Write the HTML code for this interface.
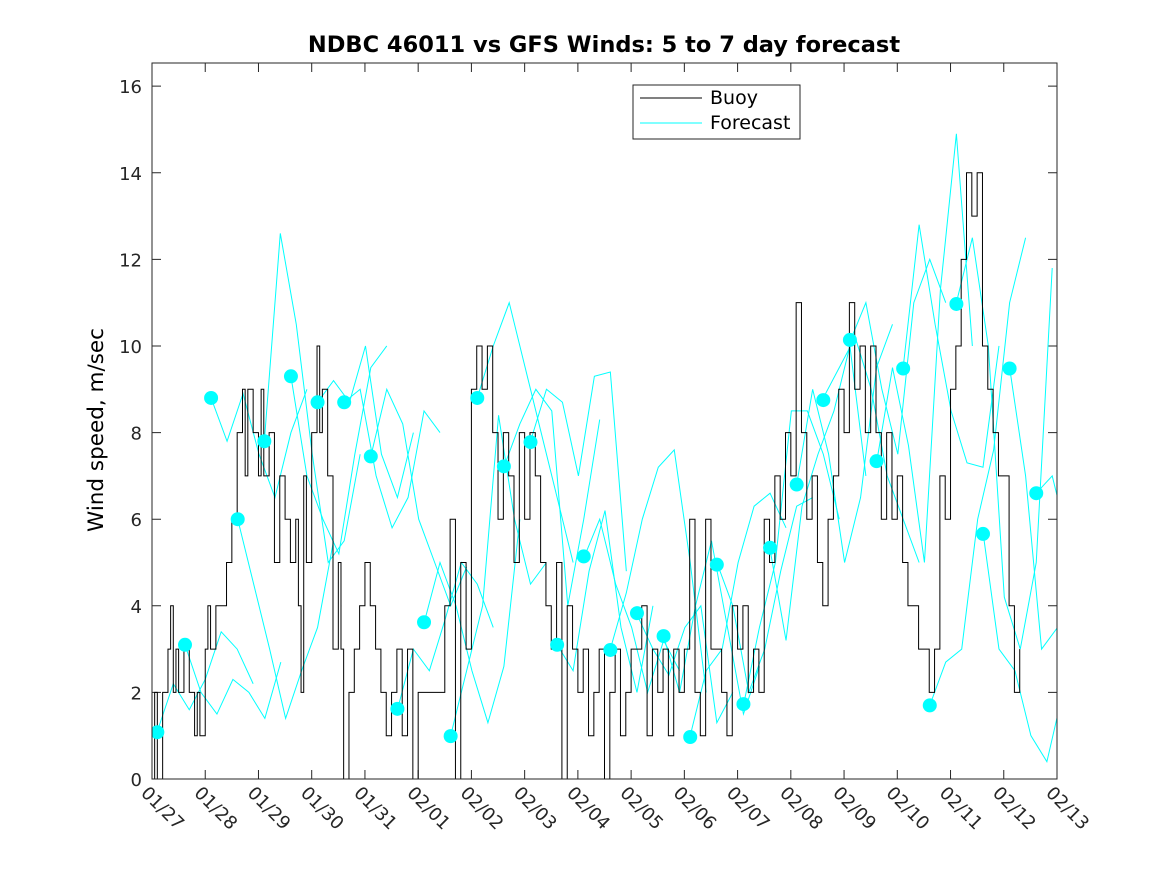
<!DOCTYPE html>
<html><head><meta charset="utf-8"><style>
body{margin:0;background:#fff;}
svg{display:block;font-family:"DejaVu Sans","Liberation Sans",sans-serif;}
</style></head><body>
<svg id="chart" width="1167" height="875" viewBox="0 0 1167 875">
<defs><clipPath id="pc"><rect x="152" y="63" width="905" height="716"/></clipPath></defs>
<rect width="1167" height="875" fill="#fff"/>
<text x="604" y="52" text-anchor="middle" font-size="22.5" font-weight="bold">NDBC 46011 vs GFS Winds: 5 to 7 day forecast</text>
<text transform="translate(103,430) rotate(-90)" text-anchor="middle" font-size="21.5">Wind speed, m/sec</text>
<g id="axes"></g>
<g id="series" clip-path="url(#pc)"></g>
<rect x="152" y="63" width="905" height="716" fill="none" stroke="#262626" stroke-width="1"/>
<g>
<rect x="633" y="85" width="167" height="54" fill="#fff" stroke="#262626"/>
<line x1="640" y1="98" x2="702" y2="98" stroke="#000"/>
<text x="710" y="104" font-size="19">Buoy</text>
<line x1="640" y1="123" x2="702" y2="123" stroke="#0ff"/>
<text x="710" y="129" font-size="19">Forecast</text>
</g>
</svg>
<script>
const yTicks=[0,2,4,6,8,10,12,14,16];
const xTickLabels=["01/27","01/28","01/29","01/30","01/31","02/01","02/02","02/03","02/04","02/05","02/06","02/07","02/08","02/09","02/10","02/11","02/12","02/13"];
const buoyT=[0,0.05,0.1,0.2,0.3,0.35,0.4,0.45,0.5,0.6,0.7,0.8,0.85,0.9,1.0,1.05,1.1,1.2,1.3,1.4,1.5,1.6,1.7,1.75,1.8,1.9,2.0,2.05,2.1,2.2,2.3,2.4,2.5,2.6,2.7,2.75,2.8,2.85,2.9,3.0,3.1,3.15,3.2,3.3,3.4,3.5,3.55,3.6,3.7,3.8,3.9,4.0,4.1,4.2,4.3,4.4,4.5,4.6,4.7,4.8,4.9,5.0,5.2,5.4,5.5,5.6,5.7,5.8,5.9,6.0,6.1,6.2,6.3,6.4,6.5,6.6,6.7,6.8,6.9,7.0,7.1,7.2,7.3,7.4,7.5,7.6,7.7,7.8,7.9,8.0,8.1,8.2,8.3,8.4,8.5,8.6,8.7,8.8,8.9,9.0,9.1,9.2,9.3,9.4,9.5,9.6,9.7,9.8,9.9,10.0,10.1,10.2,10.3,10.4,10.5,10.6,10.7,10.8,10.9,11.0,11.1,11.2,11.3,11.4,11.5,11.6,11.7,11.8,11.9,12.0,12.1,12.2,12.3,12.4,12.5,12.6,12.7,12.8,12.9,13.0,13.1,13.2,13.3,13.4,13.5,13.6,13.7,13.8,13.9,14.0,14.1,14.2,14.3,14.4,14.5,14.6,14.7,14.8,14.9,15.0,15.1,15.2,15.3,15.4,15.5,15.6,15.7,15.8,15.9,16.0,16.1,16.2,16.3];
const buoyV=[0,2,0,2,3,4,2,3,2,3,2,1,2,1,3,4,3,4,4,5,6,8,9,7,9,8,7,9,7,8,5,7,6,5,6,4,2,7,5,8,10,8,9,7,3,5,3,0,2,3,4,5,4,3,2,1,2,3,1,3,0,2,2,2,4,6,0,5,3,9,10,9,10,8,6,8,7,5,8,6,8,7,5,4,3,5,0,4,3,2,3,1,2,3,0,2,3,1,2,3,3,4,1,3,2,3,1,3,2,3,6,2,1,6,3,3,2,1,4,3,4,2,3,2,6,5,7,6,8,7,11,8,6,7,5,4,6,7,9,8,11,9,10,8,10,8,6,8,6,7,5,4,4,3,3,2,3,7,6,9,10,12,14,13,14,10,9,8,7,7,4,2,3,3];
const dotT=[0.1,0.62,1.11,1.61,2.11,2.61,3.11,3.61,4.11,4.61,5.11,5.61,6.11,6.61,7.11,7.61,8.11,8.61,9.11,9.61,10.11,10.61,11.11,11.61,12.11,12.61,13.11,13.61,14.11,14.61,15.11,15.61,16.11,16.61];
const dotV=[1.08,3.1,8.8,6.0,7.8,9.3,8.7,8.7,7.45,1.62,3.62,0.99,8.8,7.22,7.78,3.1,5.14,2.98,3.83,3.3,0.97,4.95,1.73,5.34,6.8,8.75,10.14,7.34,9.48,1.7,10.97,5.66,9.48,6.6];
const fc=[[1.1,2.2,1.6,2.3,3.4,3.0,2.2],[3.1,2.0,1.5,2.3,2.0,1.4,2.7],[8.8,7.8,8.9,7.5,6.5,8.0,9.0],[6.0,4.5,3.0,1.4,2.5,3.5,5.5],[7.8,12.6,10.5,7.5,5.0,5.5,7.5],[9.3,7.0,6.0,5.2,7.5,9.5,10.0],[8.7,9.2,8.7,10.0,7.5,6.5,8.0],[8.7,9.0,7.0,5.8,6.5,8.5,8.0],[7.45,9.0,8.2,6.0,5.0,4.0,4.9],[1.6,3.0,2.5,3.7,5.0,4.5,3.5],[3.6,5.0,4.0,2.5,1.3,2.6,6.0],[1.0,2.5,4.0,8.4,6.0,4.5,5.0],[8.8,10.0,11.0,9.5,8.0,6.5,5.0],[7.2,8.2,9.0,8.5,4.0,6.0,8.3],[7.8,9.0,8.7,7.0,9.3,9.4,4.8],[3.1,2.5,4.8,6.2,3.5,2.0,4.0],[5.1,6.0,4.5,3.5,2.0,3.2,2.5],[3.0,4.3,6.0,7.2,7.6,5.0,2.0],[3.8,3.0,2.4,3.5,4.0,1.3,2.0],[3.3,2.0,4.0,5.5,3.5,1.5,2.6],[1.0,2.5,3.0,5.0,6.3,6.6,5.8],[5.0,4.0,2.0,3.0,4.8,6.3,6.5],[1.7,3.5,5.0,8.5,8.5,7.5,6.0],[5.3,3.2,6.3,7.5,8.5,10.0,7.0],[6.8,9.0,7.5,5.0,6.5,9.5,10.5],[8.8,9.5,10.2,9.0,7.0,6.0,5.0],[10.1,11.0,9.0,7.5,11.0,12.0,11.0],[7.3,9.5,7.7,5.0,11.3,14.9,10.0],[9.5,12.8,10.5,8.5,7.3,7.2,10.0],[1.7,2.7,3.0,6.0,7.6,11.0,12.5],[11.0,12.5,10.0,4.2,3.0,5.0,11.8],[5.7,3.0,2.5,1.0,0.4,2.0,4.0],[9.5,7.0,3.0,3.5,2.0,1.5,4.3],[6.6,7.0,5.5,6.5,9.8,10.7]];
const fcStep=0.3;
const X0=152,X1=1057,Y0=779,Y1=63,XMAX=17,YMAX=16.535;
const xs=t=>X0+(X1-X0)*t/XMAX;
const ys=v=>Y0-(Y0-Y1)*v/YMAX;
const NS="http://www.w3.org/2000/svg";
const axes=document.getElementById('axes'),ser=document.getElementById('series');
function mk(tag,attrs,parent){const e=document.createElementNS(NS,tag);for(const k in attrs)e.setAttribute(k,attrs[k]);parent.appendChild(e);return e;}
yTicks.forEach(v=>{const y=ys(v);
 const l=mk('path',{d:`M${X0},${y}h9M${X1},${y}h-9`,stroke:'#262626'},axes);
 
 
 const t=mk('text',{x:X0-10,y:y+7,'text-anchor':'end','font-size':18,fill:'#262626'},axes);t.textContent=v;
 
 
});
xTickLabels.forEach((s,i)=>{const x=xs(i);
 const l=mk('path',{d:`M${x},${Y0}v-9M${x},${Y1}v9`,stroke:'#262626'},axes);
 
 
 const t=mk('text',{transform:`translate(${x-12},${Y0+15}) rotate(45)`,'font-size':18,fill:'#262626'},axes);t.textContent=s;
 
 
});
fc.forEach((arr,i)=>{const t0=dotT[i];
 const d=arr.map((v,j)=>(j?'L':'M')+xs(t0+j*fcStep)+','+ys(v)).join('');
 const p=mk('path',{d,fill:'none',stroke:'#0ff','stroke-width':1},ser);
 
 
});
let d='M'+xs(buoyT[0])+','+ys(buoyV[0]);
for(let i=1;i<buoyT.length;i++){d+='H'+xs(buoyT[i])+'V'+ys(buoyV[i]);}
const bp=mk('path',{d,fill:'none',stroke:'#000','stroke-width':1},ser);


dotT.forEach((t,i)=>{const c=mk('circle',{cx:xs(t),cy:ys(dotV[i]),r:7,fill:'#0ff'},ser);
 
 
});
</script>
</body></html>
